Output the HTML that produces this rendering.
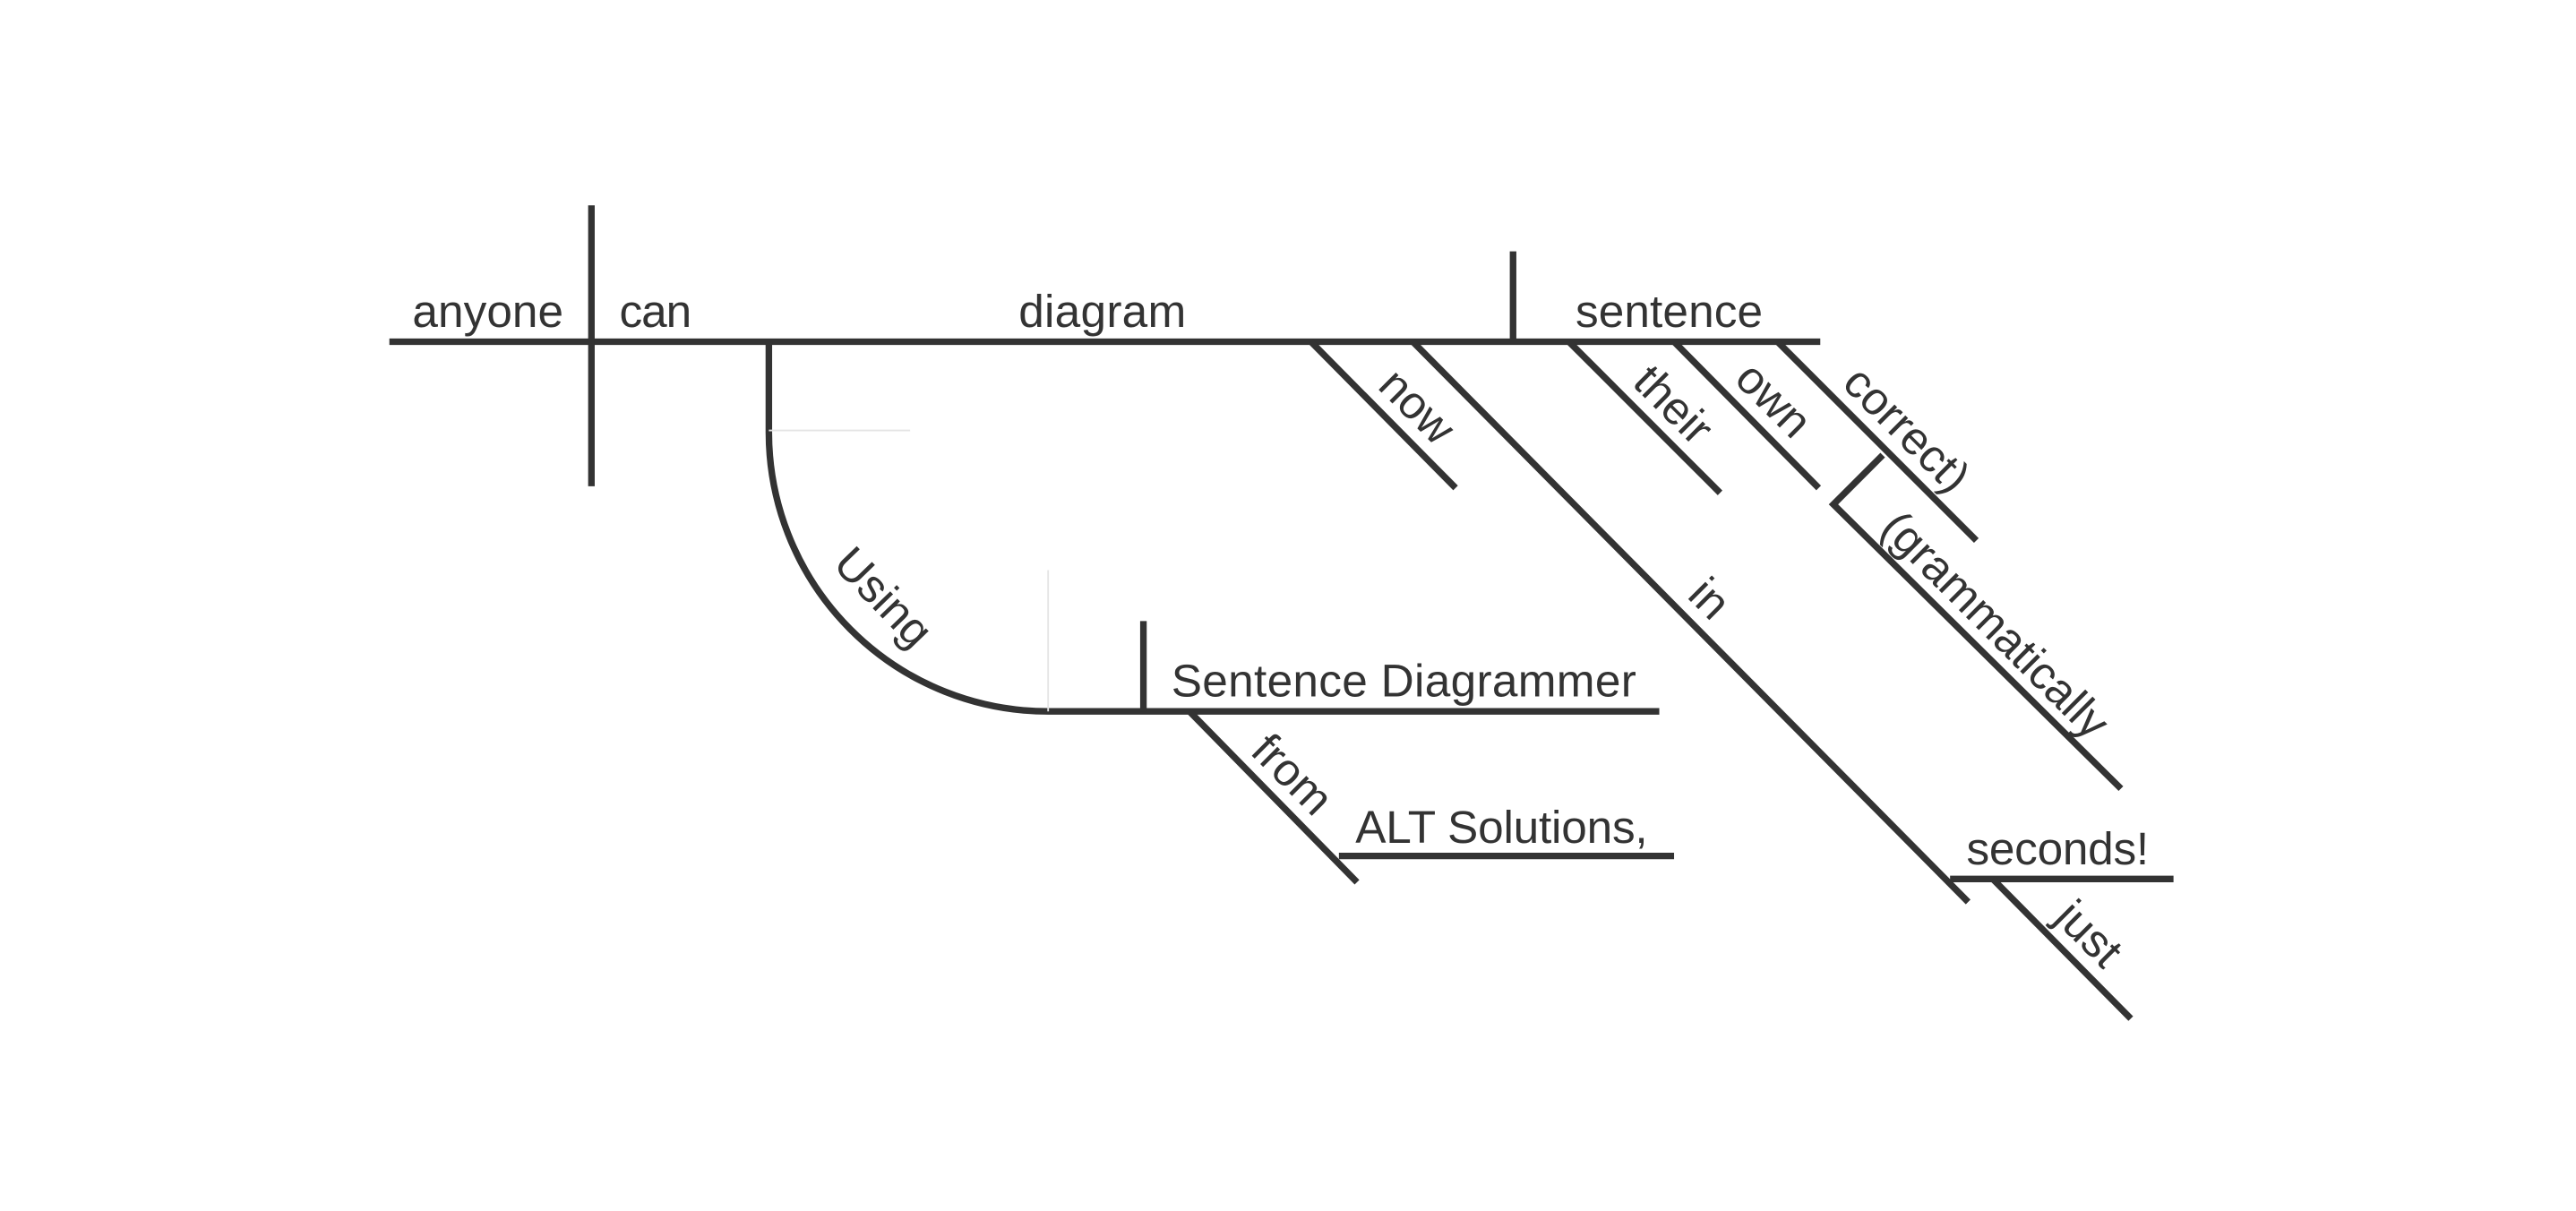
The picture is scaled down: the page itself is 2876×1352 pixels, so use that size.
<!DOCTYPE html>
<html><head><meta charset="utf-8"><style>
html,body{margin:0;padding:0;background:#fff;}
svg{display:block;}
text{font-family:"Liberation Sans",sans-serif;font-size:28px;fill:#333;}
</style></head><body>
<svg width="2876" height="1352" viewBox="0 0 1568 737.1" preserveAspectRatio="none" xmlns="http://www.w3.org/2000/svg">
<g stroke="#333" stroke-width="4" fill="none" stroke-linecap="butt">
<line x1="237" y1="208" x2="1108" y2="208"/>
<line x1="360" y1="125" x2="360" y2="296"/>
<line x1="921" y1="153" x2="921" y2="208"/>
<path d="M468 208 L468 262 A170 170 0 0 0 638 433 L1010 433"/>
<line x1="696" y1="378" x2="696" y2="433"/>
<line x1="724" y1="433" x2="826" y2="537"/>
<line x1="815" y1="521" x2="1019" y2="521"/>
<line x1="798" y1="208" x2="886" y2="297"/>
<line x1="860" y1="208" x2="1198" y2="549"/>
<line x1="1187" y1="535" x2="1323" y2="535"/>
<line x1="1213" y1="535" x2="1297" y2="620"/>
<line x1="955" y1="208" x2="1047" y2="300"/>
<line x1="1019" y1="208" x2="1107" y2="297"/>
<line x1="1082" y1="208" x2="1203" y2="329"/>
<path d="M1146 277 L1116 307 L1291 480"/>
</g>
<g stroke="#e4e4e4" stroke-width="1" fill="none">
<line x1="468" y1="262" x2="554" y2="262"/>
<line x1="638" y1="347" x2="638" y2="433"/>
</g>
<text x="251" y="199" textLength="92">anyone</text>
<text x="377" y="199" textLength="44">can</text>
<text x="620" y="199" textLength="102">diagram</text>
<text x="959" y="199" textLength="114">sentence</text>
<text x="713" y="424" textLength="283">Sentence Diagrammer</text>
<text x="825" y="513" textLength="178">ALT Solutions,</text>
<text x="1197" y="526" textLength="111">seconds!</text>
<g text-anchor="middle">
<text transform="translate(856,254) rotate(45)">now</text>
<text transform="translate(1012,253) rotate(45)">their</text>
<text transform="translate(1073,250) rotate(45)">own</text>
<text transform="translate(1154,268) rotate(45)">correct)</text>
<text transform="translate(1208,387) rotate(45)">(grammatically</text>
<text transform="translate(1034,371) rotate(45)">in</text>
<text transform="translate(1265,575) rotate(45)">just</text>
<text transform="translate(780,478) rotate(45)">from</text>
<text transform="translate(531,370) rotate(46)">Using</text>
</g>
</svg>
</body></html>
